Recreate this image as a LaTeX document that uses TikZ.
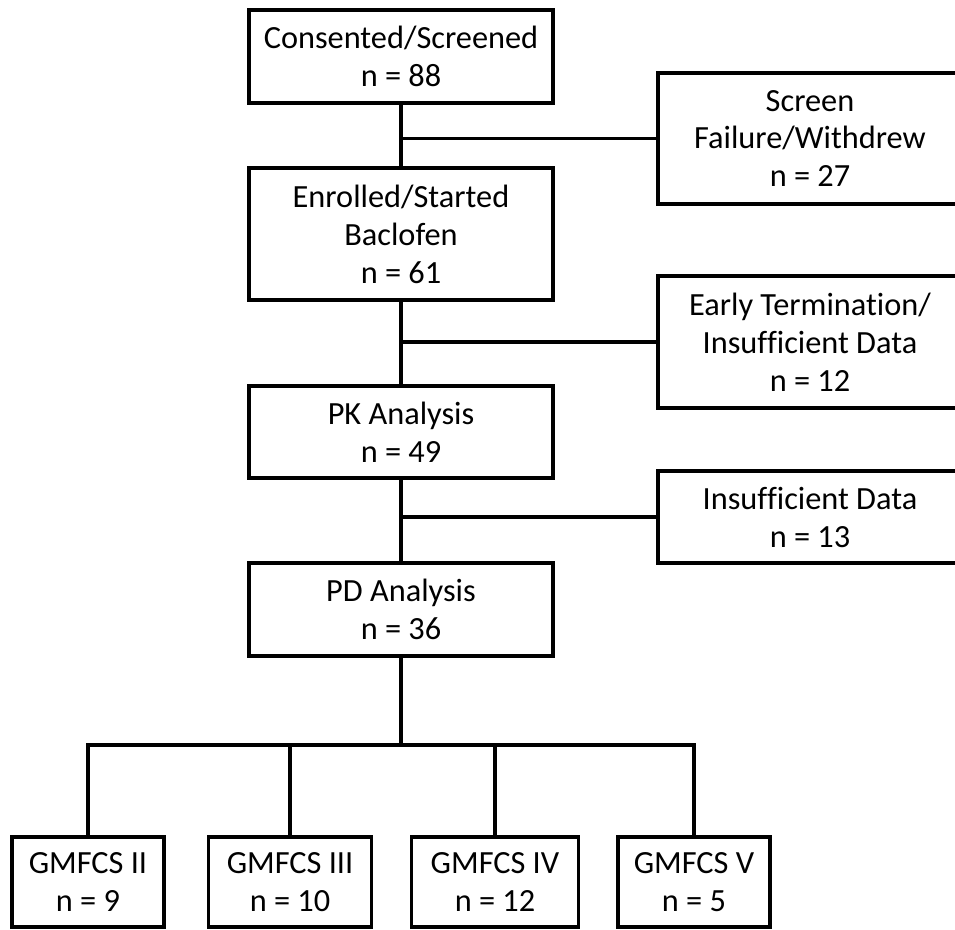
\documentclass[tikz,border=0pt]{standalone}
\usepackage{fontspec}
\setmainfont[Ligatures=CommonOff]{Carlito}

\begin{document}
\begin{tikzpicture}[line width=2.2pt,
   box/.style={draw, align=center, inner sep=0pt, minimum width=6.08cm,
      font=\fontsize{18.4}{21.6}\selectfont},
   gbox/.style={draw, align=center, inner sep=0pt, minimum height=1.8cm,
      font=\fontsize{18.4}{21.6}\selectfont}]
   \useasboundingbox (0,0) rectangle (19.1,-18.58);

   \node[box, minimum height=1.86cm] (cons) at (8.02,-1.13) {Consented/Screened\\n = 88};
   \node[box, minimum height=2.64cm] (enr) at (8.02,-4.68) {Enrolled/Started\\Baclofen\\n = 61};
   \node[box, minimum height=1.84cm] (pk) at (8.02,-8.64) {PK Analysis\\n = 49};
   \node[box, minimum height=1.86cm] (pd) at (8.02,-12.19) {PD Analysis\\n = 36};

   \node[box, minimum height=2.62cm] (screen) at (16.2,-2.77) {Screen\\Failure/Withdrew\\n = 27};
   \node[box, minimum height=2.64cm] (early) at (16.2,-6.84) {Early Termination/\\Insufficient Data\\n = 12};
   \node[box, minimum height=1.84cm] (insuf) at (16.2,-10.34) {Insufficient Data\\n = 13};

   \node[gbox, minimum width=3.04cm] (g2) at (1.76,-17.64) {GMFCS II\\n = 9};
   \node[gbox, minimum width=3.26cm] (g3) at (5.80,-17.64) {GMFCS III\\n = 10};
   \node[gbox, minimum width=3.34cm] (g4) at (9.90,-17.64) {GMFCS IV\\n = 12};
   \node[gbox, minimum width=3.04cm] (g5) at (13.88,-17.64) {GMFCS V\\n = 5};

   \draw (cons) -- (enr);
   \draw (enr) -- (pk);
   \draw (pk) -- (pd);
   \draw (cons.south |- screen.west) -- (screen.west);
   \draw (enr.south |- early.west) -- (early.west);
   \draw (pk.south |- insuf.west) -- (insuf.west);

   \coordinate (br) at (8.02,-14.9);
   \draw (pd) -- (br);
   \draw (g2.north) -- (g2.north |- br) -- (g5.north |- br) -- (g5.north);
   \draw (g3.north) -- (g3.north |- br);
   \draw (g4.north) -- (g4.north |- br);

\end{tikzpicture}
\end{document}
